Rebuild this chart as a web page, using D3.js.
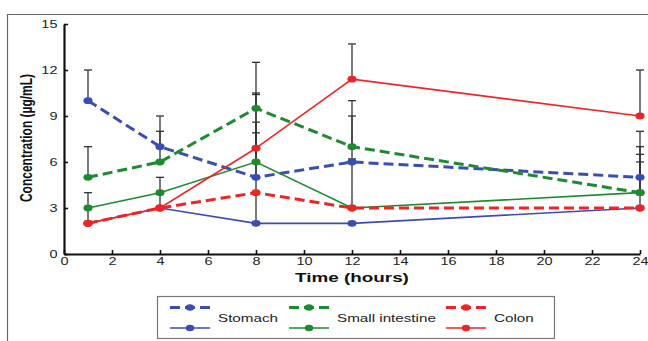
<!DOCTYPE html>
<html>
<head>
<meta charset="utf-8">
<script src="https://cdn.jsdelivr.net/npm/d3@7"></script>
<style>
  html, body { margin: 0; padding: 0; background: #fff; }
  svg { display: block; font-family: "Liberation Sans", Arial, sans-serif; }
</style>
</head>
<body>
<svg id="chart" width="648" height="341"></svg>
<script>
// Sampling times (hours)
const times = [1, 4, 8, 12, 24];

// Mean concentrations (µg/mL) per organ; "A" = dashed series, "B" = solid series
const stomachA = [10, 7, 5, 6, 5];
const stomachB = [2, 3, 2, 2, 3];
const intestineA = [5, 6, 9.5, 7, 4];
const intestineB = [3, 4, 6, 3, 4];
const colonA = [2, 3, 4, 3, 3];
const colonB = [2, 3, 6.9, 11.4, 9];

// Upper error bar lengths (µg/mL)
const stomachAErr = [2, 2, 3.6, 3, 3];
const stomachBErr = [0, 0, 2, 0, 0];
const intestineAErr = [2, 2, 3, 3, 3];
const intestineBErr = [1, 1, 4.4, 3.2, 2.5];
const colonAErr = [0, 0, 3.9, 0, 3];
const colonBErr = [1, 1, 3.6, 2.3, 3];

const organs = ["Stomach", "Small intestine", "Colon"];
const xTicks = [0, 2, 4, 6, 8, 10, 12, 14, 16, 18, 20, 22, 24];
const yTicks = [0, 3, 6, 9, 12, 15];

const colors = { "Stomach": "#3a4db3", "Small intestine": "#1e8a30", "Colon": "#ef2424" };

const series = [
  { organ: "Stomach", dashed: true, values: stomachA, err: stomachAErr },
  { organ: "Stomach", dashed: false, values: stomachB, err: stomachBErr },
  { organ: "Small intestine", dashed: true, values: intestineA, err: intestineAErr },
  { organ: "Small intestine", dashed: false, values: intestineB, err: intestineBErr },
  { organ: "Colon", dashed: true, values: colonA, err: colonAErr },
  { organ: "Colon", dashed: false, values: colonB, err: colonBErr }
];

const STRETCH = 1.45; // horizontal glyph widening used for all text
const svg = d3.select("#chart");

// Outer frame (top and left edges)
svg.append("path")
  .attr("d", "M7.5,341 L7.5,14.5 L648,14.5")
  .attr("fill", "none").attr("stroke", "#666").attr("stroke-width", 1.2);

const x = d3.scaleLinear().domain([0, 24]).range([64, 640]);
const y = d3.scaleLinear().domain([0, 15]).range([254, 24]);

// Axes with inward ticks
const xAxis = svg.append("g").attr("transform", `translate(0,${y(0)})`)
  .call(d3.axisBottom(x).tickValues(xTicks).tickSizeInner(-4).tickSizeOuter(0).tickPadding(4));
const yAxis = svg.append("g").attr("transform", `translate(${x(0)},0)`)
  .call(d3.axisLeft(y).tickValues(yTicks).tickSizeInner(-4).tickSizeOuter(0).tickPadding(4.5));

[xAxis, yAxis].forEach(ax => {
  ax.select(".domain").attr("stroke", "#111").attr("stroke-width", 2.2);
  ax.selectAll(".tick line").attr("stroke", "#111").attr("stroke-width", 1.6);
  ax.selectAll(".tick text")
    .attr("fill", "#222").attr("font-size", 10).attr("font-family", "Liberation Sans, Arial, sans-serif")
    .attr("transform", `scale(${STRETCH},1)`);
});

// Axis titles
svg.append("text")
  .attr("transform", `translate(352,282) scale(${STRETCH},1)`)
  .attr("text-anchor", "middle").attr("font-size", 13).attr("font-weight", "bold").attr("fill", "#111")
  .text("Time (hours)");
svg.append("text")
  .attr("transform", `translate(32,138) scale(${STRETCH},1) rotate(-90)`)
  .attr("text-anchor", "middle").attr("font-size", 12).attr("font-weight", "bold").attr("fill", "#111")
  .text("Concentration (µg/mL)");

// Error bars (upper only, with caps)
const errG = svg.append("g").attr("stroke", "#333").attr("stroke-width", 1.3);
series.forEach(s => {
  s.values.forEach((v, i) => {
    if (!s.err[i]) return;
    const px = x(times[i]);
    errG.append("line").attr("x1", px).attr("x2", px).attr("y1", y(v)).attr("y2", y(v + s.err[i]));
    errG.append("line").attr("x1", px - 4).attr("x2", px + 4).attr("y1", y(v + s.err[i])).attr("y2", y(v + s.err[i]));
  });
});

// Lines
const line = d3.line().x((d, i) => x(times[i])).y(d => y(d));
series.forEach(s => {
  svg.append("path")
    .datum(s.values)
    .attr("d", line)
    .attr("fill", "none")
    .attr("stroke", colors[s.organ])
    .attr("stroke-width", s.dashed ? 3 : 1.6)
    .attr("stroke-dasharray", s.dashed ? "10,5" : null);
});

// Markers
series.forEach(s => {
  svg.append("g").selectAll("ellipse")
    .data(s.values)
    .join("ellipse")
    .attr("cx", (d, i) => x(times[i]))
    .attr("cy", d => y(d))
    .attr("rx", 4.6).attr("ry", 3.4)
    .attr("fill", colors[s.organ]);
});

// Legend
const legend = svg.append("g");
legend.append("rect")
  .attr("x", 157.5).attr("y", 296.5).attr("width", 397).attr("height", 42)
  .attr("fill", "#fff").attr("stroke", "#777").attr("stroke-width", 1.2);

const legendX = { "Stomach": 170, "Small intestine": 289, "Colon": 446 };
organs.forEach(o => {
  const x0 = legendX[o];
  [true, false].forEach((dashed, k) => {
    const ly = dashed ? 307.5 : 328;
    legend.append("line")
      .attr("x1", x0).attr("x2", x0 + 40).attr("y1", ly).attr("y2", ly)
      .attr("stroke", colors[o])
      .attr("stroke-width", dashed ? 3 : 1.6)
      .attr("stroke-dasharray", dashed ? "10,5" : null);
    legend.append("ellipse")
      .attr("cx", x0 + 20).attr("cy", ly).attr("rx", 4.2).attr("ry", 3.2)
      .attr("fill", colors[o]);
  });
  legend.append("text")
    .attr("transform", `translate(${x0 + 48},322) scale(${STRETCH},1)`)
    .attr("font-size", 10.5).attr("fill", "#222")
    .text(o);
});
</script>
</body>
</html>
